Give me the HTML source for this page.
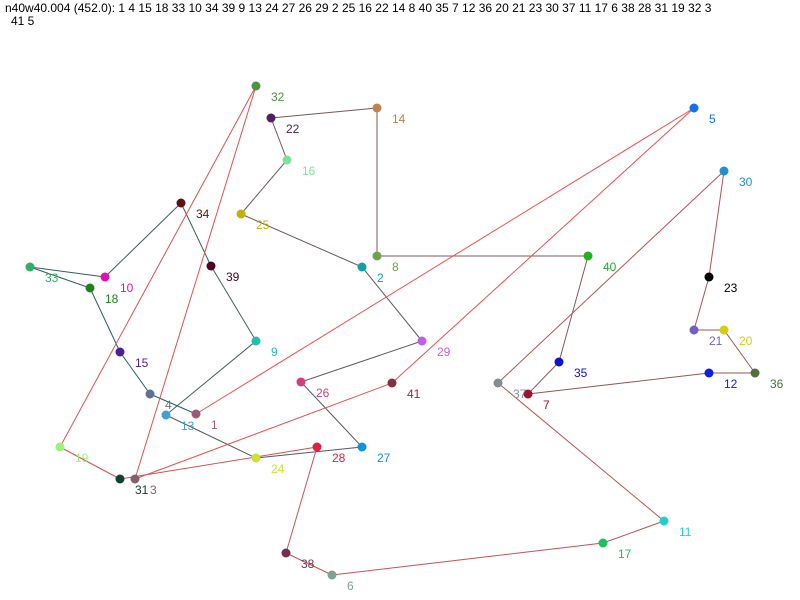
<!DOCTYPE html><html><head><style>body{margin:0;background:#fff}svg{display:block}text{font-family:"Liberation Sans",sans-serif;font-size:12px}</style></head><body>
<svg width="800" height="600" xmlns="http://www.w3.org/2000/svg">
<text x="5" y="12" fill="#000">n40w40.004 (452.0): 1 4 15 18 33 10 34 39 9 13 24 27 26 29 2 25 16 22 14 8 40 35 7 12 36 20 21 23 30 37 11 17 6 38 28 31 19 32 3</text>
<text x="11" y="25" fill="#000">41 5</text>
<g id="g"></g>
</svg>
<script>
var N={1:[196,414,"#a05a78"],4:[150,394,"#607090"],15:[120,352,"#502090"],18:[90,288,"#208020"],33:[30,267,"#30b060"],10:[105,277,"#e010b0"],34:[181,203,"#601010"],39:[211,266,"#500020"],9:[256,341,"#20c0b0"],13:[166,415,"#40a0d0"],24:[256,458,"#d0e030"],27:[362,447,"#1090e0"],26:[301,382,"#d04080"],29:[422,341,"#c060e0"],2:[362,267,"#10a0a0"],25:[241,214,"#c0b010"],16:[287,160,"#80e0a0"],22:[271,118,"#502060"],14:[377,108,"#c08050"],8:[377,256,"#70a050"],40:[588,256,"#20b020"],35:[559,362,"#1010d0"],7:[528,394,"#a01030"],12:[709,373,"#1020e0"],36:[755,373,"#507040"],20:[724,330,"#d0d010"],21:[694,330,"#7060c0"],23:[709,277,"#000000"],30:[724,171,"#2090d0"],37:[498,383,"#809090"],11:[664,521,"#20d0d0"],17:[603,543,"#20c060"],6:[332,575,"#80a090"],38:[286,553,"#703050"],28:[317,447,"#e02040"],31:[120,479,"#104030"],19:[60,447,"#a0f080"],32:[256,86,"#509040"],3:[135,479,"#806070"],41:[392,383,"#803040"],5:[694,108,"#1070f0"]};
var T=[1,4,15,18,33,10,34,39,9,13,24,27,26,29,2,25,16,22,14,8,40,35,7,12,36,20,21,23,30,37,11,17,6,38,28,31,19,32,3,41,5,1];
var s="";
for(var i=0;i<T.length-1;i++){var a=N[T[i]],b=N[T[i+1]];var t=i/(T.length-2);
var r=Math.round(0x1f+t*(0xf0-0x1f)),g=Math.round(0x60-t*0x10),bl=Math.round(0x60-t*0x10);
s+='<line x1="'+a[0]+'" y1="'+a[1]+'" x2="'+b[0]+'" y2="'+b[1]+'" stroke="rgb('+r+','+g+','+bl+')" stroke-width="1"/>';}
for(var k in N){var n=N[k];s+='<circle cx="'+n[0]+'" cy="'+n[1]+'" r="4.5" fill="'+n[2]+'"/><text x="'+(n[0]+15)+'" y="'+(n[1]+15)+'" fill="'+n[2]+'">'+k+'</text>';}
document.getElementById("g").innerHTML=s;
</script>
</body></html>
